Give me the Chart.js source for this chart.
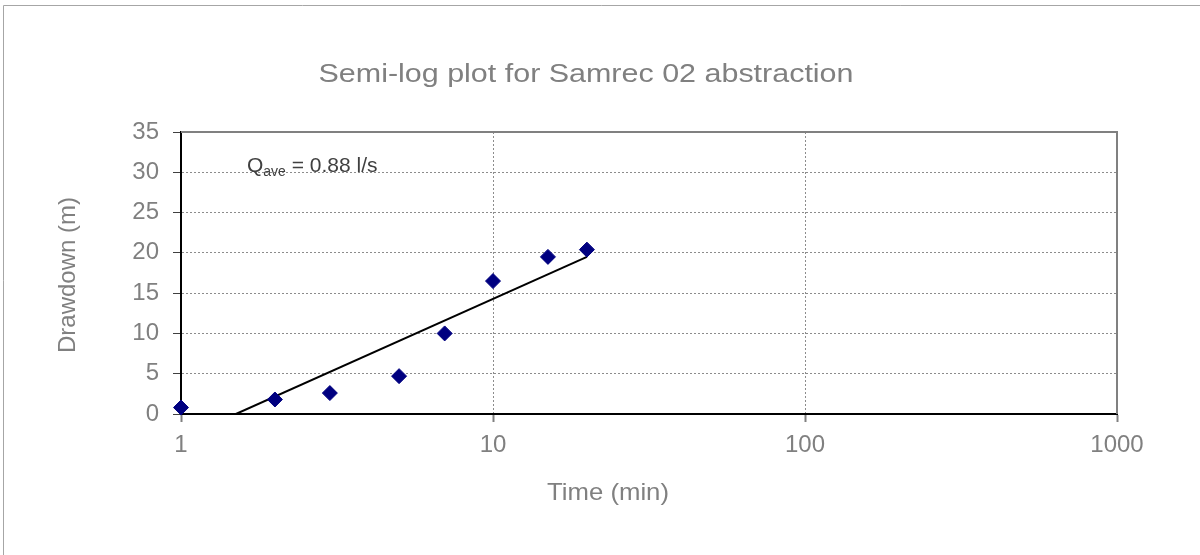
<!DOCTYPE html>
<html>
<head>
<meta charset="utf-8">
<script src="https://cdn.jsdelivr.net/npm/chart.js@4.4.0/dist/chart.umd.min.js"></script>
<style>
  html, body { margin: 0; padding: 0; background: #ffffff; }
  #wrap { position: relative; width: 1200px; height: 555px; }
  canvas { display: block; }
</style>
</head>
<body>
<div id="wrap"><canvas id="c" width="1200" height="555"></canvas></div>
<script>
// ---- data ----
const timeMin = [1, 2, 3, 5, 7, 10, 15, 20];
const drawdown = [0.8, 1.8, 2.6, 4.7, 10.0, 16.5, 19.5, 20.4];
const trendTime = [1.5, 20];
const trendDrawdown = [0, 19.5];
const xTickValues = [1, 10, 100, 1000];
const yTickValues = [0, 5, 10, 15, 20, 25, 30, 35];

const FONT = '"Liberation Sans", Arial, sans-serif';
const TEXT_GRAY = '#808080';

function stretchedText(ctx, text, cx, cy, targetWidth) {
  const w = ctx.measureText(text).width;
  const sx = targetWidth / w;
  ctx.save();
  ctx.translate(cx, cy);
  ctx.scale(sx, 1);
  ctx.textAlign = 'center';
  ctx.textBaseline = 'middle';
  ctx.fillText(text, 0, 0);
  ctx.restore();
}

const textPlugin = {
  id: 'texts',
  beforeDraw(chart) {
    const ctx = chart.ctx;
    ctx.save();
    ctx.strokeStyle = '#a6a6a6';
    ctx.lineWidth = 1;
    ctx.beginPath();
    ctx.moveTo(3.5, 555);
    ctx.lineTo(3.5, 5.5);
    ctx.lineTo(1200, 5.5);
    ctx.stroke();
    ctx.restore();
  },
  afterDraw(chart) {
    const ctx = chart.ctx;
    const a = chart.chartArea;
    ctx.save();
    // top and right plot border (gray)
    ctx.strokeStyle = '#808080';
    ctx.lineWidth = 2;
    ctx.beginPath();
    ctx.moveTo(a.left, a.top);
    ctx.lineTo(a.right, a.top);
    ctx.lineTo(a.right, a.bottom);
    ctx.stroke();

    ctx.fillStyle = TEXT_GRAY;
    // title
    ctx.font = '26px ' + FONT;
    stretchedText(ctx, 'Semi-log plot for Samrec 02 abstraction', 586, 75, 535);
    // x title
    ctx.font = '24px ' + FONT;
    stretchedText(ctx, 'Time (min)', 608, 493, 122);
    // y title
    ctx.save();
    ctx.translate(68, (a.top + a.bottom) / 2 + 2);
    ctx.rotate(-Math.PI / 2);
    ctx.textAlign = 'center';
    ctx.textBaseline = 'middle';
    ctx.font = '24px ' + FONT;
    ctx.fillText('Drawdown (m)', 0, 0);
    ctx.restore();

    // annotation Q_ave = 0.88 l/s
    ctx.fillStyle = '#404040';
    ctx.textAlign = 'left';
    ctx.textBaseline = 'alphabetic';
    let x = 247, y = 172;
    ctx.font = '21px ' + FONT;
    ctx.fillText('Q', x, y);
    x += ctx.measureText('Q').width;
    ctx.font = '14px ' + FONT;
    ctx.fillText('ave', x, y + 4);
    x += ctx.measureText('ave').width;
    ctx.font = '21px ' + FONT;
    ctx.fillText(' = 0.88 l/s', x, y);
    ctx.restore();
  }
};

new Chart(document.getElementById('c'), {
  type: 'scatter',
  data: {
    datasets: [
      {
        label: 'Drawdown',
        data: timeMin.map((t, i) => ({ x: t, y: drawdown[i] })),
        pointStyle: 'rectRot',
        pointRadius: 7.5,
        pointHoverRadius: 7.5,
        backgroundColor: '#000080',
        borderColor: '#000080',
        borderWidth: 1,
        showLine: false,
        clip: false,
        order: 1
      },
      {
        label: 'Trend',
        data: trendTime.map((t, i) => ({ x: t, y: trendDrawdown[i] })),
        showLine: true,
        borderColor: '#000000',
        borderWidth: 2,
        pointRadius: 0,
        fill: false,
        order: 2
      }
    ]
  },
  options: {
    responsive: false,
    animation: false,
    events: [],
    layout: { padding: { left: 0, top: 132, right: 83, bottom: 0 } },
    plugins: {
      legend: { display: false },
      title: { display: false },
      tooltip: { enabled: false }
    },
    scales: {
      x: {
        type: 'logarithmic',
        min: 1,
        max: 1000,
        afterBuildTicks: axis => { axis.ticks = xTickValues.map(v => ({ value: v, major: true })); },
        afterFit: axis => { axis.height = 141; },
        ticks: {
          color: TEXT_GRAY,
          font: { family: FONT, size: 24 },
          padding: 9,
          maxRotation: 0,
          autoSkip: false,
          callback: v => String(v)
        },
        grid: {
          color: '#8c8c8c',
          lineWidth: 1,
          drawTicks: true,
          tickLength: 8,
          tickColor: '#808080',
          tickWidth: 2,
          tickBorderDash: []
        },
        border: { display: true, color: '#000000', width: 2, dash: [2, 2] }
      },
      y: {
        type: 'linear',
        min: 0,
        max: 35,
        afterBuildTicks: axis => { axis.ticks = yTickValues.map(v => ({ value: v })); },
        afterFit: axis => { axis.width = 181; },
        ticks: {
          color: TEXT_GRAY,
          font: { family: FONT, size: 24 },
          padding: 14,
          autoSkip: false
        },
        grid: {
          color: '#8c8c8c',
          lineWidth: 1,
          drawTicks: true,
          tickLength: 8,
          tickColor: '#404040',
          tickWidth: 1,
          tickBorderDash: []
        },
        border: { display: true, color: '#000000', width: 2, dash: [2, 2] }
      }
    }
  },
  plugins: [textPlugin]
});
</script>
</body>
</html>
